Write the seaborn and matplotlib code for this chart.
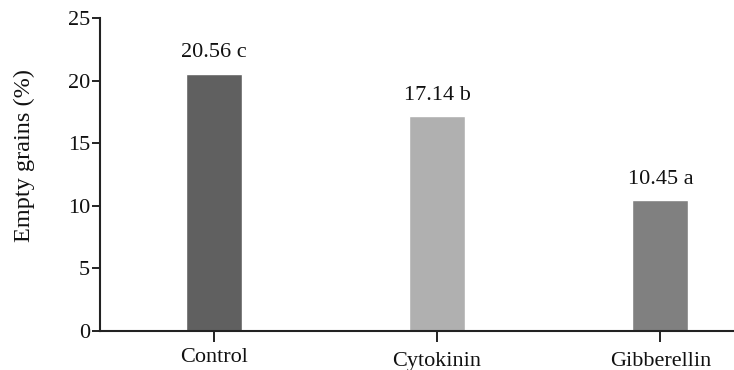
import matplotlib
matplotlib.use("Agg")
import matplotlib.pyplot as plt
import matplotlib.transforms as mtrans
import seaborn as sns
import pandas as pd

categories = ["Control", "Cytokinin", "Gibberellin"]
values = [20.56, 17.14, 10.45]
letters = ["c", "b", "a"]
colors = ["#606060", "#b0b0b0", "#808080"]

sns.set_style("ticks")
plt.rcParams['font.family'] = ['Liberation Serif', 'DejaVu Serif']

df = pd.DataFrame({"cat": categories, "val": values})

fig = plt.figure(figsize=(7.34, 3.70), dpi=100)
ax = fig.add_axes([100/734, 1-331/370, 1-100/734, (331-18)/370])
sns.barplot(data=df, x="cat", y="val", hue="cat", palette=colors, width=0.25,
            legend=False, ax=ax, saturation=1)

for i, (v, l) in enumerate(zip(values, letters)):
    ax.annotate(f"{v:.2f} {l}", (i, v), xytext=(0, 8), textcoords="offset points",
                ha="center", va="bottom", fontsize=16, color="#111111")

ax.set_ylim(0, 25)
ax.set_yticks([0, 5, 10, 15, 20, 25])
ax.set_xlim(-0.51, 2.33)
ax.set_xlabel("")
ax.set_ylabel("Empty grains (%)", fontsize=17.5, color="#111111")
ax.yaxis.set_label_coords(-0.103, 0.56)
ax.tick_params(axis="y", labelsize=16, length=6, width=1.3, pad=1, colors="#111111")
ax.tick_params(axis="x", labelsize=16, length=8, width=1.3, pad=4, colors="#111111")
for s in ["left", "bottom"]:
    ax.spines[s].set_linewidth(1.5)
    ax.spines[s].set_color("#222222")
ax.spines["top"].set_visible(False)
ax.spines["right"].set_visible(False)

fig.canvas.draw()
for lbl in ax.get_xticklabels()[1:]:
    lbl.set_transform(lbl.get_transform() + mtrans.ScaledTranslation(0, -4/100, fig.dpi_scale_trans))

fig.savefig("out.png", dpi=100)
